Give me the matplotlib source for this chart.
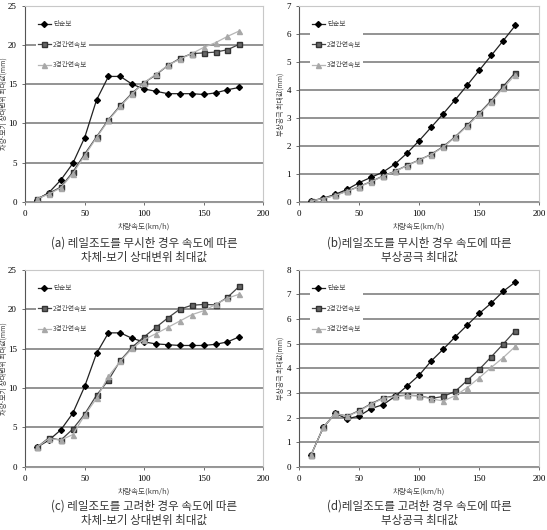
import numpy as np
import matplotlib
matplotlib.use('Agg')
import matplotlib.pyplot as plt

plt.rcParams['font.family'] = ['Liberation Serif', 'Noto Sans CJK KR']

speed = np.arange(10, 190, 10)
labels = ['단순보', '2경간연속보', '3경간연속보']

# (a) 차체-보기 상대변위, 레일조도 무시
a_simple = [0.3, 1.2, 2.8, 4.9, 8.2, 13.0, 16.0, 16.0, 15.0, 14.4, 14.1, 13.8, 13.8, 13.8, 13.7, 13.9, 14.3, 14.6]
a_two = [0.4, 1.1, 1.9, 3.8, 6.1, 8.3, 10.5, 12.3, 13.9, 15.2, 16.2, 17.4, 18.3, 18.9, 19.0, 19.1, 19.4, 20.1]
a_three = [0.4, 1.0, 1.8, 3.6, 5.9, 8.2, 10.4, 12.2, 13.8, 15.2, 16.3, 17.4, 18.2, 18.9, 19.7, 20.3, 21.1, 21.8]

# (b) 부상공극, 레일조도 무시
b_simple = [0.04, 0.13, 0.27, 0.45, 0.69, 0.88, 1.07, 1.36, 1.75, 2.19, 2.67, 3.15, 3.65, 4.17, 4.70, 5.23, 5.76, 6.30]
b_two = [0.04, 0.12, 0.24, 0.39, 0.55, 0.73, 0.93, 1.10, 1.31, 1.50, 1.70, 1.98, 2.33, 2.74, 3.17, 3.62, 4.13, 4.62]
b_three = [0.04, 0.12, 0.23, 0.38, 0.54, 0.72, 0.92, 1.09, 1.30, 1.49, 1.69, 1.96, 2.31, 2.71, 3.14, 3.58, 4.07, 4.54]

# (c) 차체-보기 상대변위, 레일조도 고려
c_simple = [2.5, 3.4, 4.7, 6.8, 10.2, 14.4, 17.0, 17.0, 16.3, 15.85, 15.6, 15.5, 15.4, 15.4, 15.4, 15.55, 15.85, 16.5]
c_two = [2.5, 3.7, 3.4, 4.8, 6.7, 9.1, 11.0, 13.5, 15.2, 16.5, 17.7, 18.9, 20.0, 20.5, 20.6, 20.55, 21.5, 22.9]
c_three = [2.5, 3.6, 3.4, 4.1, 6.55, 8.7, 11.5, 13.4, 15.05, 16.15, 16.9, 17.7, 18.5, 19.3, 19.8, 20.6, 21.4, 21.9]

# (d) 부상공극, 레일조도 고려
d_simple = [0.5, 1.6, 2.17, 1.95, 2.07, 2.37, 2.53, 2.87, 3.29, 3.73, 4.30, 4.78, 5.28, 5.76, 6.23, 6.65, 7.13, 7.50]
d_two = [0.5, 1.6, 2.17, 2.06, 2.29, 2.57, 2.80, 2.89, 2.91, 2.89, 2.78, 2.86, 3.07, 3.51, 3.96, 4.47, 4.99, 5.53]
d_three = [0.5, 1.6, 2.17, 2.05, 2.27, 2.55, 2.78, 2.86, 2.90, 2.88, 2.76, 2.68, 2.89, 3.22, 3.62, 4.04, 4.44, 4.89]

panels = [
    ([0.046, 0.619, 0.435, 0.370], (a_simple, a_two, a_three), 25, 5, '차량-보기 상대변위 최대값(mm)',
     '(a) 레일조도를 무시한 경우 속도에 따른\n차체-보기 상대변위 최대값', 0.554, 4),
    ([0.547, 0.619, 0.439, 0.370], (b_simple, b_two, b_three), 7, 1, '부상공극 최대값(mm)',
     '(b)레일조도를 무시한 경우 속도에 따른\n부상공극 최대값', 0.554, 281),
    ([0.046, 0.119, 0.435, 0.372], (c_simple, c_two, c_three), 25, 5, '차량-보기 상대변위 최대값(mm)',
     '(c) 레일조도를 고려한 경우 속도에 따른\n차체-보기 상대변위 최대값', 0.058, 4),
    ([0.547, 0.119, 0.439, 0.372], (d_simple, d_two, d_three), 8, 1, '부상공극 최대값(mm)',
     '(d)레일조도를 고려한 경우 속도에 따른\n부상공극 최대값', 0.058, 281),
]

styles = [
    dict(color='#222222', marker='D', ms=3.0, mfc='black', mec='black', lw=0.9),
    dict(color='#444444', marker='s', ms=3.6, mfc='#666666', mec='#333333', lw=0.9),
    dict(color='#b5b5b5', marker='^', ms=3.6, mfc='#a8a8a8', mec='#a8a8a8', lw=0.9),
]

kor = ['Noto Sans CJK KR', 'DejaVu Sans']

fig = plt.figure(figsize=(5.47, 5.30), dpi=100)
for rect, series, ymax, ystep, ylab, cap, cap_y, ylab_x in panels:
    ax = fig.add_axes(rect)
    for s, lab, st in zip(series, labels, styles):
        ax.plot(speed, s, label=lab, **st)
    ax.set_xlim(0, 200)
    ax.set_ylim(0, ymax)
    ax.set_xticks(np.arange(0, 201, 50))
    ax.set_yticks(np.arange(0, ymax + 0.1, ystep))
    ax.yaxis.grid(True, color='#8a8a8a', lw=1.3)
    ax.set_axisbelow(True)
    for side in ['top', 'right']:
        ax.spines[side].set_color('#c8c8c8')
    ax.spines['left'].set_color('#555555')
    ax.spines['bottom'].set_color('#999999')
    ax.tick_params(labelsize=6.5, length=2.5, width=0.6, direction='out', color='#555555')
    ax.set_xlabel('차량속도(km/h)', fontsize=5.5, family=kor, color='#444444', labelpad=3)
    ax.set_ylabel(ylab, fontsize=5.0, family=kor, color='#444444', va='center')
    # label centre placed at a fixed pixel column left of the tick numbers
    left_px = rect[0] * 547
    ax.yaxis.set_label_coords((ylab_x - left_px) / (rect[2] * 547), 0.5)
    leg = ax.legend(loc='upper left', bbox_to_anchor=(0.03, 0.955), frameon=True,
                    facecolor='white', edgecolor='none', framealpha=1,
                    prop={'family': kor, 'size': 4.8}, labelspacing=1.9,
                    handlelength=2.0, handletextpad=0.3, borderpad=0.3)
    for t in leg.get_texts():
        t.set_color('#444444')
    x0 = rect[0] + rect[2] / 2
    fig.text(x0, cap_y, cap, ha='center', va='top', fontsize=8.3,
             family=kor, color='#333333', linespacing=1.15)

fig.savefig('out.png', dpi=100)
